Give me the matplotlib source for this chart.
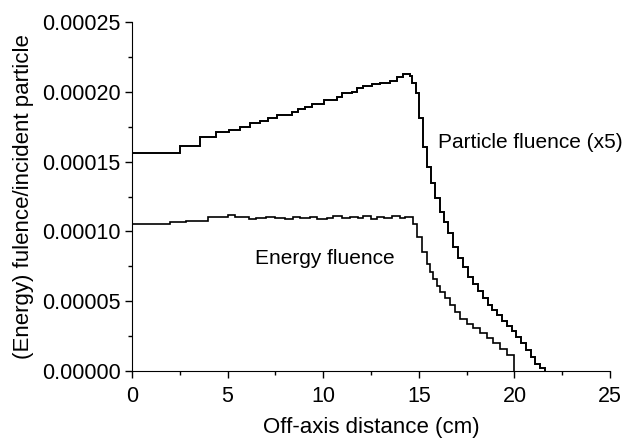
import numpy as np
import matplotlib.pyplot as plt

plt.rcParams['font.family'] = ['Liberation Sans', 'DejaVu Sans']

# Particle fluence (x5), step histogram, values in units of 1e-5
part_edges = [0, 2.5, 3.55, 4.4, 5.07, 5.65, 6.17, 6.69, 7.13, 7.57,
              8.35, 8.7, 9.05, 9.4, 10.05, 10.7, 10.97, 11.49, 11.75, 12.1,
              12.53, 12.97, 13.49, 13.84, 14.19, 14.54, 14.63, 14.84, 15.01, 15.24,
              15.45, 15.62, 15.85, 16.11, 16.32, 16.54, 16.77, 17.04, 17.32, 17.59,
              17.85, 18.1, 18.35, 18.6, 18.85, 19.1, 19.35, 19.6, 19.85, 20.1,
              20.35, 20.6, 20.85, 21.1, 21.35, 21.6]
part_vals = [15.6, 16.14, 16.74, 17.14, 17.3, 17.45, 17.74, 17.9, 18.1, 18.34,
             18.55, 18.75, 18.93, 19.13, 19.4, 19.65, 19.89, 20.0, 20.25, 20.41,
             20.56, 20.62, 20.79, 21.05, 21.27, 21.13, 20.65, 19.89, 18.1, 16.07,
             14.6, 13.45, 12.37, 11.41, 10.69, 9.86, 8.9, 8.07, 7.47, 6.75,
             6.2, 5.7, 5.2, 4.75, 4.37, 4.0, 3.6, 3.2, 2.85, 2.45,
             2.0, 1.5, 1.0, 0.5, 0.2]

# Energy fluence, values in units of 1e-5
en_edges = [0, 2.0, 2.8, 4.0, 4.5, 5.0, 5.4, 6.1, 6.5, 7.0,
            7.5, 8.0, 8.4, 8.8, 9.3, 9.7, 10.2, 10.5, 11.0, 11.4,
            11.8, 12.1, 12.5, 12.8, 13.2, 13.6, 14.0, 14.3, 14.7, 14.9,
            15.15, 15.41, 15.6, 15.76, 15.95, 16.11, 16.37, 16.63, 16.9, 17.15,
            17.5, 17.85, 18.2, 18.55, 18.9, 19.25, 19.6, 20.0]
en_vals = [10.53, 10.65, 10.77, 11.05, 11.02, 11.15, 11.0, 10.88, 10.95, 11.05,
           10.98, 10.9, 11.0, 10.93, 11.05, 10.92, 10.98, 11.1, 10.95, 11.05,
           10.98, 11.08, 10.9, 11.05, 10.95, 11.08, 10.98, 11.05, 10.5, 9.6,
           8.5, 7.7, 7.1, 6.6, 6.1, 5.65, 5.2, 4.7, 4.2, 3.75,
           3.4, 3.05, 2.7, 2.35, 2.0, 1.6, 1.15]

scale = 1e-5

fig = plt.figure(figsize=(6.27, 4.41), dpi=100)
ax = fig.add_axes([0.2105, 0.1587, 0.7625, 0.7913])

ax.stairs(np.array(part_vals) * scale, part_edges, color='black', lw=1.4)
ax.stairs(np.array(en_vals) * scale, en_edges, color='black', lw=1.2)

ax.set_xlim(0, 25)
ax.set_ylim(0, 0.00025)
ax.set_xticks([0, 5, 10, 15, 20, 25])
ax.set_xticks(np.arange(2.5, 25, 5), minor=True)
ax.set_yticks([0, 0.00005, 0.0001, 0.00015, 0.0002, 0.00025])
ax.set_yticks(np.arange(0.000025, 0.00025, 0.00005), minor=True)
ax.set_yticklabels(['0.00000', '0.00005', '0.00010', '0.00015', '0.00020', '0.00025'])

ax.spines['top'].set_visible(False)
ax.spines['right'].set_visible(False)
ax.tick_params(which='major', direction='out', length=5, width=1, labelsize=15.5, pad=3)
ax.tick_params(axis='x', which='major', pad=6)
ax.tick_params(which='minor', direction='out', length=3, width=1)

ax.set_xlabel('Off-axis distance (cm)', fontsize=16, labelpad=7)
ax.set_ylabel('(Energy) fulence/incident particle', fontsize=16, labelpad=6)

ax.text(16.0, 0.0001637, 'Particle fluence (x5)', fontsize=15, va='center', ha='left')
ax.text(6.43, 0.0000809, 'Energy fluence', fontsize=15, va='center', ha='left')

fig.savefig('out.png', dpi=100)
